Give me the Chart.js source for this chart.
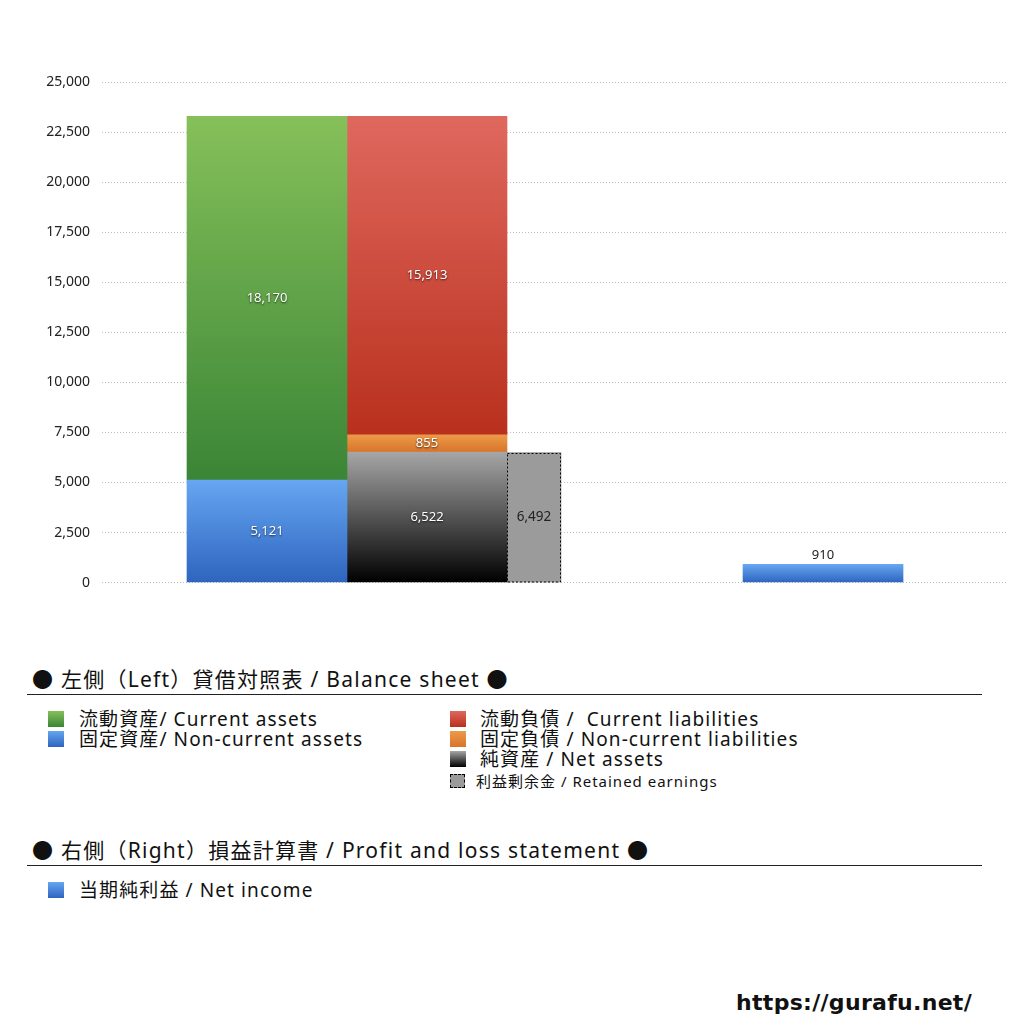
<!DOCTYPE html>
<html lang="ja">
<head>
    <meta charset="UTF-8">
    <title>貸借対照表 / 損益計算書</title>
    <script src="https://cdn.jsdelivr.net/npm/chart.js"></script>
    <style>
        body {
            margin: 0;
            width: 1024px;
            height: 1024px;
            background: #ffffff;
            color: #111;
            font-family: "Noto Sans", "Noto Sans CJK JP", sans-serif;
            position: relative;
            overflow: hidden;
        }

        .chart-box {
            position: absolute;
            left: 0;
            top: 0;
            width: 1024px;
            height: 603px;
        }

        .head {
            position: absolute;
            left: 32px;
            font-size: 21px;
            line-height: 24px;
            letter-spacing: 1.25px;
            white-space: nowrap;
        }

        .rule {
            position: absolute;
            left: 27px;
            width: 955px;
            height: 1px;
            background: #222;
        }

        .item {
            position: absolute;
            font-size: 19px;
            line-height: 20px;
            letter-spacing: 1.1px;
            white-space: nowrap;
        }

        .item.small {
            font-size: 15px;
            letter-spacing: 1px;
        }

        .sw {
            position: absolute;
            width: 16px;
            height: 16px;
        }

        .url {
            position: absolute;
            right: 52px;
            top: 990px;
            font-family: "DejaVu Sans", sans-serif;
            font-weight: bold;
            font-size: 22px;
            letter-spacing: 0.3px;
        }
    </style>
</head>
<body>
    <div class="chart-box">
        <canvas id="bsChart"></canvas>
    </div>

    <div class="head" style="top:667px">● 左側（Left）貸借対照表 / Balance sheet ●</div>
    <div class="rule" style="top:694px"></div>

    <div class="sw" style="left:48px;top:711px;background:linear-gradient(#86c05a,#3a8536)"></div>
    <div class="item" style="left:79px;top:709px">流動資産/ Current assets</div>
    <div class="sw" style="left:48px;top:731px;background:linear-gradient(#66a6f2,#2e64be)"></div>
    <div class="item" style="left:79px;top:729px">固定資産/ Non-current assets</div>

    <div class="sw" style="left:450px;top:711px;background:linear-gradient(#df685e,#b9301d)"></div>
    <div class="item" style="left:480px;top:709px">流動負債 /&nbsp; Current liabilities</div>
    <div class="sw" style="left:450px;top:731px;background:linear-gradient(#eb9a48,#d9742a)"></div>
    <div class="item" style="left:480px;top:729px">固定負債 / Non-current liabilities</div>
    <div class="sw" style="left:450px;top:751px;background:linear-gradient(#a6a6a6,#000)"></div>
    <div class="item" style="left:480px;top:749px">純資産 / Net assets</div>
    <div class="sw" style="left:450px;top:774px;width:13px;height:12px;background:#9b9b9b;border:1px dashed #000"></div>
    <div class="item small" style="left:476px;top:771px">利益剰余金 / Retained earnings</div>

    <div class="head" style="top:838px">● 右側（Right）損益計算書 / Profit and loss statement ●</div>
    <div class="rule" style="top:865px"></div>

    <div class="sw" style="left:48px;top:882px;background:linear-gradient(#66a6f2,#2e64be)"></div>
    <div class="item" style="left:79px;top:880px">当期純利益 / Net income</div>

    <div class="url">https://gurafu.net/</div>

    <script>
        // 0 = left side (balance sheet), 1 = right side (P&L)
        const sides = [0, 1];

        const currentAssets = [18170, null];
        const nonCurrentAssets = [5121, null];
        const currentLiabilities = [15913, null];
        const nonCurrentLiabilities = [855, null];
        const netAssets = [6522, null];
        const retainedEarnings = [6492, null];
        const netIncome = [null, 910];

        const yMax = 25000;
        const yStep = 2500;

        const fmt = v => Number(v).toLocaleString('en-US');

        // vertical gradient over each bar segment
        function barGradient(top, bottom) {
            return ctx => {
                const chart = ctx.chart;
                if (!chart.chartArea || ctx.type !== 'data') return bottom;
                const ds = chart.data.datasets;
                const me = ds[ctx.datasetIndex];
                let base = 0;
                for (let k = 0; k < ctx.datasetIndex; k++) {
                    if (ds[k].stack === me.stack) base += ds[k].data[ctx.dataIndex] || 0;
                }
                const y = chart.scales.y;
                const y0 = y.getPixelForValue(base);
                const y1 = y.getPixelForValue(base + (ctx.raw || 0));
                const g = chart.ctx.createLinearGradient(0, y1, 0, y0);
                g.addColorStop(0, top);
                g.addColorStop(1, bottom);
                return g;
            };
        }

        // value labels + dashed outline for retained earnings
        const barLabels = {
            id: 'barLabels',
            afterDatasetsDraw(chart) {
                const c = chart.ctx;
                chart.data.datasets.forEach((d, i) => {
                    const meta = chart.getDatasetMeta(i);
                    meta.data.forEach((el, j) => {
                        const v = d.data[j];
                        if (v === null || v === undefined) return;
                        c.save();
                        c.font = '13px "Noto Sans", sans-serif';
                        c.textAlign = 'center';
                        c.textBaseline = 'middle';
                        if (d.outline) {
                            c.strokeStyle = '#000';
                            c.lineWidth = 1;
                            c.setLineDash([2, 2]);
                            const w = el.width;
                            c.strokeRect(Math.round(el.x - w / 2) + 0.5, Math.round(el.y) + 0.5, w - 1, el.base - el.y - 1);
                            c.setLineDash([]);
                            c.fillStyle = '#222';
                            c.font = '13.5px "Noto Sans", sans-serif';
                            c.fillText(fmt(v), el.x, (el.y + el.base) / 2);
                        } else if (d.above) {
                            c.fillStyle = '#222';
                            c.fillText(fmt(v), el.x, el.y - 9);
                        } else {
                            c.shadowColor = 'rgba(0,0,0,0.7)';
                            c.shadowBlur = 2;
                            c.shadowOffsetY = 1;
                            c.fillStyle = '#ffffff';
                            c.fillText(fmt(v), el.x, (el.y + el.base) / 2);
                        }
                        c.restore();
                    });
                });
            }
        };

        const ctx = document.getElementById('bsChart').getContext('2d');
        new Chart(ctx, {
            type: 'bar',
            data: {
                labels: sides,
                datasets: [
                    { label: '固定資産', data: nonCurrentAssets, stack: 'assets', backgroundColor: barGradient('#66a6f2', '#2e64be') },
                    { label: '流動資産', data: currentAssets, stack: 'assets', backgroundColor: barGradient('#86c05a', '#3a8536') },
                    { label: '純資産', data: netAssets, stack: 'liab', backgroundColor: barGradient('#a6a6a6', '#000000') },
                    { label: '固定負債', data: nonCurrentLiabilities, stack: 'liab', backgroundColor: barGradient('#eb9a48', '#d9742a') },
                    { label: '流動負債', data: currentLiabilities, stack: 'liab', backgroundColor: barGradient('#df685e', '#b9301d') },
                    // narrower column sitting right of the liabilities column
                    { label: '利益剰余金', data: retainedEarnings, stack: 'retained', backgroundColor: '#9b9b9b',
                      barThickness: 107, maxBarThickness: 54, outline: true },
                    { label: '当期純利益', data: netIncome, stack: 'income', backgroundColor: barGradient('#66a6f2', '#2e64be'), above: true }
                ]
            },
            options: {
                responsive: true,
                maintainAspectRatio: false,
                animation: false,
                skipNull: true,
                barThickness: 160,
                layout: { padding: { top: 82, right: 18, bottom: 15, left: 0 } },
                plugins: {
                    legend: { display: false },
                    tooltip: { enabled: false }
                },
                scales: {
                    x: {
                        type: 'linear',
                        stacked: true,
                        display: false,
                        offset: false,
                        min: -0.8207,
                        max: 1.4621
                    },
                    y: {
                        stacked: true,
                        min: 0,
                        max: yMax,
                        afterFit: scale => { scale.width = 102; },
                        ticks: {
                            stepSize: yStep,
                            padding: 12,
                            color: '#222',
                            font: { family: '"Noto Sans", sans-serif', size: 14 },
                            callback: v => fmt(v)
                        },
                        grid: { color: '#bdbdbd', lineWidth: 1, drawTicks: false },
                        border: { display: false, dash: [1, 2] }
                    }
                }
            },
            plugins: [barLabels]
        });
    </script>
</body>
</html>
